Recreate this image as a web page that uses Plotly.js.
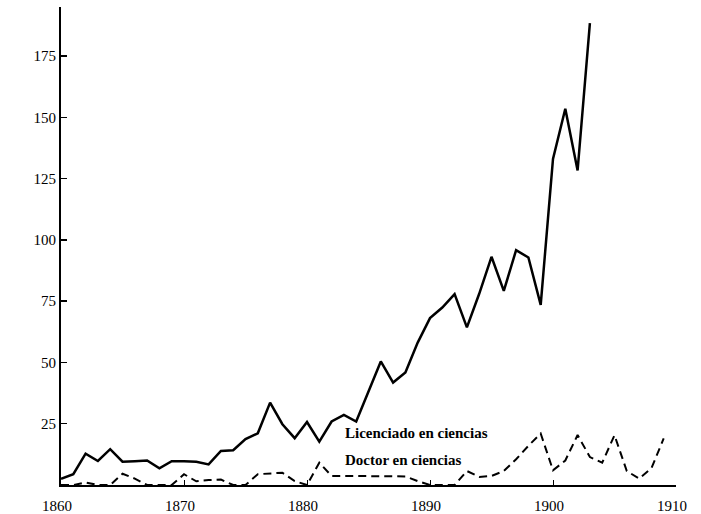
<!DOCTYPE html>
<html>
<head>
<meta charset="utf-8">
<script src="https://cdn.plot.ly/plotly-3.0.1.min.js"></script>
<style>
  html, body { margin: 0; padding: 0; background: #fff; }
  #chart { width: 701px; height: 514px; }
</style>
</head>
<body>
<div id="chart"></div>
<script>
const licYears = [1860,1861,1862,1863,1864,1865,1866,1867,1868,1869,1870,1871,1872,1873,1874,1875,1876,1877,1878,1879,1880,1881,1882,1883,1884,1885,1886,1887,1888,1889,1890,1891,1892,1893,1894,1895,1896,1897,1898,1899,1900,1901,1902,1903];
const licValues = [2.5,4.4,12.8,9.8,14.6,9.5,9.7,10,6.8,9.7,9.7,9.5,8.4,13.9,14.2,18.7,21.1,33.6,24.8,19.1,25.7,17.7,25.9,28.6,25.9,38.2,50.4,41.8,45.9,58.1,68.1,72.4,77.9,64.3,78,93.1,79.2,95.8,92.8,73.5,133,153.5,128.3,188.4];

const docYears = [1860,1861,1862,1863,1864,1865,1866,1867,1868,1869,1870,1871,1872,1873,1874,1875,1876,1877,1878,1879,1880,1881,1882,1883,1884,1885,1886,1887,1888,1889,1890,1891,1892,1893,1894,1895,1896,1897,1898,1899,1900,1901,1902,1903,1904,1905,1906,1907,1908,1909];
const docValues = [0,0,1,0,0,4.6,2.6,0,0,0,4.4,1.5,2,2.2,0,0,4.4,4.6,5,1.6,0,9.1,3.7,3.7,3.7,3.7,3.7,3.7,3.5,1.6,0,0,0,5.7,3.3,3.7,5.7,10.5,16,21,6,10,20.4,11.4,9.1,20.3,5.7,2.6,6.8,19];

const xTicks = [1860,1870,1880,1890,1900,1910];
const yTicks = [25,50,75,100,125,150,175];

const labelLic = "Licenciado en ciencias";
const labelDoc = "Doctor en ciencias";

const serif = "Liberation Serif, Times New Roman, serif";

const traces = [
  {x: licYears, y: licValues, type: 'scatter', mode: 'lines', name: labelLic,
   line: {color: '#000', width: 2.5}, hoverinfo: 'skip'},
  {x: docYears, y: docValues, type: 'scatter', mode: 'lines', name: labelDoc,
   line: {color: '#000', width: 2, dash: '8px,5px'}, hoverinfo: 'skip'}
];

const layout = {
  width: 701, height: 514,
  margin: {l: 61, r: 25, t: 7, b: 29},
  paper_bgcolor: '#fff', plot_bgcolor: '#fff',
  showlegend: false,
  font: {family: serif, color: '#000', size: 14},
  xaxis: {
    range: [1860, 1910],
    tickvals: xTicks, ticktext: xTicks.map(String),
    showgrid: false, zeroline: false,
    showline: true, linecolor: '#000', linewidth: 1.5,
    ticks: 'inside', ticklen: 5, tickcolor: '#000', tickwidth: 1,
    tickfont: {family: serif, size: 15, color: '#000'},
    ticklabelstandoff: 6, ticklabelshift: -4,
    fixedrange: true
  },
  yaxis: {
    range: [0, 195],
    tickvals: yTicks, ticktext: yTicks.map(String),
    showgrid: false, zeroline: false,
    showline: true, linecolor: '#000', linewidth: 2,
    ticks: 'inside', ticklen: 6, tickcolor: '#000', tickwidth: 1.5,
    tickfont: {family: serif, size: 15, color: '#000'},
    fixedrange: true
  },
  annotations: [
    {text: '<b>' + labelLic + '</b>', xref: 'paper', yref: 'paper', x: (343-61)/615, y: (485-433)/478,
     xanchor: 'left', yanchor: 'middle', showarrow: false, font: {family: serif, size: 15, color: '#000'}},
    {text: '<b>' + labelDoc + '</b>', xref: 'paper', yref: 'paper', x: (343-61)/615, y: (485-460)/478,
     xanchor: 'left', yanchor: 'middle', showarrow: false, font: {family: serif, size: 15, color: '#000'}}
  ]
};

Plotly.newPlot('chart', traces, layout, {staticPlot: true, displayModeBar: false});
</script>
</body>
</html>
